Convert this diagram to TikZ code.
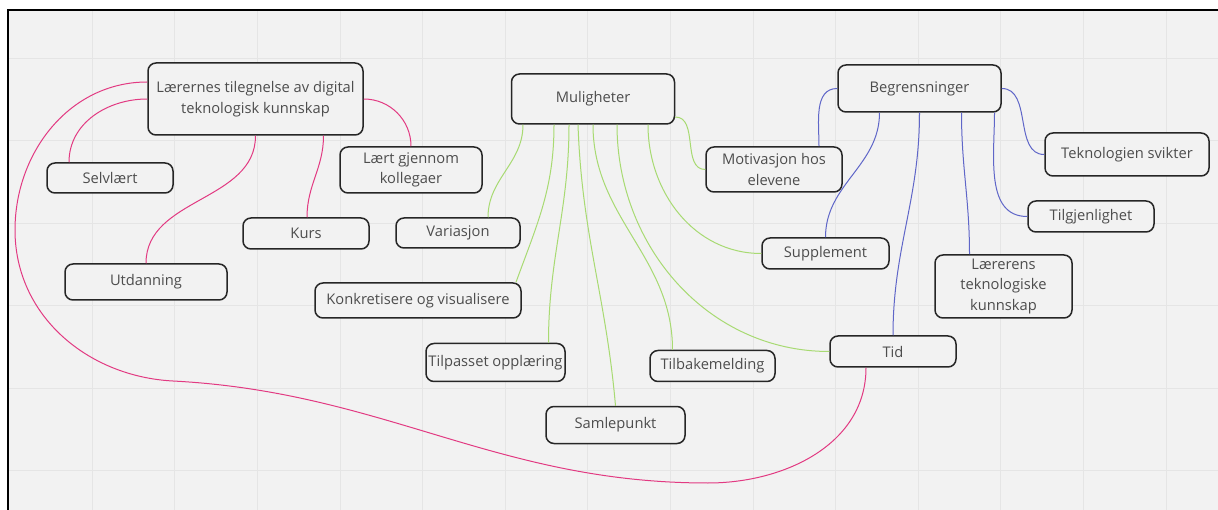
\documentclass[tikz,border=0pt]{standalone}
\usepackage{fontspec}
\setmainfont{Open Sans}
\usetikzlibrary{positioning}
\definecolor{board}{HTML}{F2F2F2}
\definecolor{gridline}{HTML}{E5E5E5}
\definecolor{pinkline}{HTML}{E23A82}
\definecolor{greenline}{HTML}{A8DA72}
\definecolor{blueline}{HTML}{5F66C8}
\definecolor{boxtext}{HTML}{4D4D4D}
\tikzset{
  box/.style={draw=black!85,line width=1.5pt,rounded corners=8pt,fill=board,text=boxtext,
    font=\fontsize{14.7}{20.5}\selectfont,align=center,inner sep=0pt},
  pinkwire/.style={draw=pinkline,line width=1pt},
  greenwire/.style={draw=greenline,line width=1pt},
  bluewire/.style={draw=blueline,line width=1pt}
}
\begin{document}
\begin{tikzpicture}[x=1pt,y=-1pt]
\useasboundingbox (0,0) rectangle (1218,510);
\fill[white] (0,0) rectangle (1218,510);
\fill[board] (8,10) rectangle (1218,510);
\foreach \i in {0,...,13}
  \draw[gridline] ({92+82.6*\i},10) -- ({92+82.6*\i},510);
\foreach \j in {0,...,5}
  \draw[gridline] (8,{58+82.5*\j}) -- (1218,{58+82.5*\j});
\draw[line width=2.4pt] (8,510) -- (8,10) -- (1218,10);

% left group
\node at(255.5,99)[box,minimum width=215pt,minimum height=72pt](lk){Lærernes tilegnelse av digital\\teknologisk kunnskap};
\node at(110,178)[box,minimum width=126pt,minimum height=30pt](selv){Selvlært};
\node at(306,233.5)[box,minimum width=126pt,minimum height=31pt](kurs){Kurs};
\node at(146,282)[box,minimum width=162pt,minimum height=36pt](utd){Utdanning};
\node at(411,170)[box,minimum width=142pt,minimum height=46pt](kol){Lært gjennom\\kollegaer};

% middle group
\node at(593,99)[box,minimum width=163pt,minimum height=50pt](mul){Muligheter};
\node at(458,233)[box,minimum width=124pt,minimum height=30pt](var){Variasjon};
\node at(418,300.5)[box,minimum width=206pt,minimum height=35pt](konk){Konkretisere og visualisere};
\node at(495.5,362.5)[box,minimum width=139pt,minimum height=38pt](tilp){Tilpasset opplæring};
\node at(615.5,425)[box,minimum width=139pt,minimum height=37pt](samle){Samlepunkt};
\node at(712.5,366)[box,minimum width=125pt,minimum height=31pt](tilb){Tilbakemelding};
\node at(825.5,253.5)[box,minimum width=127pt,minimum height=31pt](sup){Supplement};
\node at(774,169.5)[box,minimum width=136pt,minimum height=45pt](mot){Motivasjon hos\\elevene};
\node at(893,351.5)[box,minimum width=126pt,minimum height=31pt](tid){Tid};

% right group
\node at(919.5,88.5)[box,minimum width=163pt,minimum height=47pt](beg){Begrensninger};
\node at(1127,154.5)[box,minimum width=164pt,minimum height=43pt](tek){Teknologien svikter};
\node at(1091,216.5)[box,minimum width=126pt,minimum height=31pt](tilg){Tilgjenlighet};
\node at(1003.5,286.5)[box,minimum width=137pt,minimum height=63pt](lt){Lærerens\\teknologiske\\kunnskap};

% pink
\draw[pinkwire] (lk.west) to[out=180,in=90] ([xshift=-41pt]selv.north);
\draw[pinkwire] (lk.south) to[out=-90,in=90] (utd.north);
\draw[pinkwire] ([xshift=68pt]lk.south) to[out=-90,in=90] ([xshift=1pt]kurs.north);
\draw[pinkwire] (lk.east) to[out=0,in=90] (kol.north);
\coordinate (p1) at (15,230);
\coordinate (p2) at (173,381);
\coordinate (p3) at (708,483);
\draw[pinkwire] ([yshift=17pt]lk.west) to[out=180,in=90] (p1) to[out=-90,in=177] (p2)
  to[out=-3,in=180] (p3) to[out=0,in=-90] ([xshift=-27pt]tid.south);

% green
\draw[greenwire] ([xshift=-70pt]mul.south) to[out=-90,in=90] ([xshift=30pt]var.north);
\draw[greenwire] ([xshift=-39pt]mul.south) to[out=-90,in=70] ([xshift=98pt]konk.north);
\draw[greenwire] ([xshift=-24pt]mul.south) to[out=-90,in=90] ([xshift=53pt]tilp.north);
\draw[greenwire] ([xshift=-15pt]mul.south) to[out=-88,in=95] (samle.north);
\draw[greenwire] (mul.south) to[out=-90,in=90] ([xshift=-40pt]tilb.north);
\draw[greenwire] ([xshift=24pt]mul.south) to[out=-90,in=180] (tid.west);
\draw[greenwire] ([xshift=55pt]mul.south) to[out=-90,in=180] (sup.west);
\draw[greenwire] ([yshift=-18pt]mul.east) to[out=0,in=180] (mot.west);

% blue
\draw[bluewire] (beg.west) to[out=180,in=90] ([xshift=45pt]mot.north);
\draw[bluewire] ([xshift=-40pt]beg.south) to[out=-90,in=90] (sup.north);
\draw[bluewire] (beg.south) to[out=-90,in=90] (tid.north);
\draw[bluewire] ([xshift=42pt]beg.south) to[out=-90,in=90] ([xshift=-34pt]lt.north);
\draw[bluewire] ([xshift=75pt]beg.south) to[out=-90,in=180] (tilg.west);
\draw[bluewire] (beg.east) to[out=0,in=180] (tek.west);
\end{tikzpicture}
\end{document}
